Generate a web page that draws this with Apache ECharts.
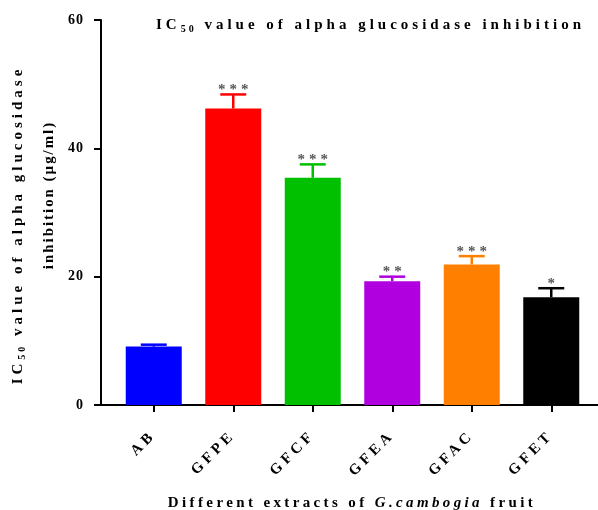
<!DOCTYPE html>
<html>
<head>
<meta charset="utf-8">
<script src="https://cdn.jsdelivr.net/npm/echarts@6/dist/echarts.min.js"></script>
<style>
html,body{margin:0;padding:0;background:#fff;}
#chart{width:598px;height:510px;}
</style>
</head>
<body>
<div id="chart"></div>
<script>
const categories = ['AB', 'GFPE', 'GFCF', 'GFEA', 'GFAC', 'GFET'];
const values = [9.1, 46.2, 35.4, 19.3, 21.9, 16.8];
const errors = [0.3, 2.2, 2.1, 0.7, 1.3, 1.4];
const stars = ['', '***', '***', '**', '***', '*'];
const barColors = ['#0000ff', '#ff0000', '#00c000', '#b000e0', '#ff8000', '#000000'];
const yMin = 0, yMax = 60, yStep = 20;

// wide letter spacing, as in the reference typesetting (chosen by font size)
const SPACING_BY_SIZE = {'15px': '4px', '14.9px': '2px', '14.95px': '3.4px', '14px': '1px', '10px': '3px'};
['fillText', 'strokeText', 'measureText'].forEach(function (fn) {
  const orig = CanvasRenderingContext2D.prototype[fn];
  CanvasRenderingContext2D.prototype[fn] = function () {
    if ('letterSpacing' in this) {
      const m = /(\d+(?:\.\d+)?px)/.exec(this.font || '');
      this.letterSpacing = (m && SPACING_BY_SIZE[m[1]]) || '0px';
    }
    return orig.apply(this, arguments);
  };
});

const FONT = '"Liberation Serif", "Times New Roman", serif';
const chart = echarts.init(document.getElementById('chart'), null, {renderer: 'canvas'});

const errData = values.map((v, i) => [i, v, errors[i]]);

chart.setOption({
  animation: false,
  title: {
    text: 'IC{s|50} value of alpha glucosidase inhibition',
    left: 151, top: 10,
    textStyle: {
      fontFamily: FONT, fontWeight: 'bold', fontSize: 15, color: '#000',
      rich: { s: { fontFamily: FONT, fontWeight: 'bold', fontSize: 10, padding: [8, 0, 0, 0] } }
    }
  },
  grid: [
    {left: 114, right: 7, top: 20, bottom: 105},
    {left: 100, right: 0, top: 20, bottom: 105}
  ],
  xAxis: [
    {
      type: 'category', data: categories, gridIndex: 0,
      axisLine: {show: false},
      axisTick: {show: true, alignWithLabel: true, length: 7, lineStyle: {color: '#000', width: 2}},
      axisLabel: {
        rotate: 45, margin: 28, color: '#000', fontFamily: FONT, fontWeight: 'bold', fontSize: 15
      }
    },
    {
      type: 'value', gridIndex: 1, min: 0, max: 1,
      axisLine: {show: true, lineStyle: {color: '#000', width: 2}},
      axisTick: {show: false}, axisLabel: {show: false}, splitLine: {show: false}
    }
  ],
  yAxis: [
    {
      type: 'value', gridIndex: 0, min: yMin, max: yMax, interval: yStep, offset: 13,
      axisLine: {show: true, lineStyle: {color: '#000', width: 2}},
      axisTick: {show: true, length: 7, lineStyle: {color: '#000', width: 2}},
      axisLabel: {margin: 17, color: '#000', fontFamily: FONT, fontWeight: 'bold', fontSize: 14},
      splitLine: {show: false}
    },
    {type: 'value', gridIndex: 1, show: false, min: 0, max: 1}
  ],
  series: [
    {
      type: 'bar', xAxisIndex: 0, yAxisIndex: 0,
      barWidth: 56,
      data: values.map((v, i) => ({value: v, itemStyle: {color: barColors[i]}})),
      z: 2
    },
    {
      type: 'custom', xAxisIndex: 0, yAxisIndex: 0, z: 3,
      data: errData,
      renderItem: function (params, api) {
        const i = api.value(0);
        const v = api.value(1);
        const e = api.value(2);
        const top = api.coord([i, v + e]);
        const base = api.coord([i, v]);
        const c = barColors[i];
        const half = 13;
        return {
          type: 'group',
          children: [
            {type: 'line', shape: {x1: top[0], y1: base[1], x2: top[0], y2: top[1]}, style: {stroke: c, lineWidth: 2.5}},
            {type: 'line', shape: {x1: top[0] - half, y1: top[1], x2: top[0] + half, y2: top[1]}, style: {stroke: c, lineWidth: 2.5}},
            {type: 'text', x: top[0] + 2, y: top[1] + 5,
              style: {text: stars[i], textAlign: 'center', textVerticalAlign: 'bottom',
                fill: '#555', font: 'bold 15px ' + FONT}}
          ]
        };
      }
    }
  ],
  graphic: [
    {
      type: 'text', x: 18, y: 225, rotation: Math.PI / 2,
      style: {
        text: 'IC{s|50} value of alpha glucosidase',
        textAlign: 'center', textVerticalAlign: 'middle',
        font: 'bold 15px ' + FONT, fill: '#000',
        rich: {s: {font: 'bold 10px ' + FONT, padding: [8, 0, 0, 0]}}
      }
    },
    {
      type: 'text', x: 49, y: 195, rotation: Math.PI / 2,
      style: {
        text: 'inhibition (\u00b5g/ml)',
        textAlign: 'center', textVerticalAlign: 'middle',
        font: 'bold 14.9px ' + FONT, fill: '#000'
      }
    },
    {
      type: 'text', x: 352, y: 503,
      style: {
        text: 'Different extracts of {i|G.cambogia} fruit',
        textAlign: 'center', textVerticalAlign: 'middle',
        font: 'bold 14.95px ' + FONT, fill: '#000',
        rich: {i: {font: 'italic bold 14.95px ' + FONT}}
      }
    }
  ]
});
</script>
</body>
</html>
